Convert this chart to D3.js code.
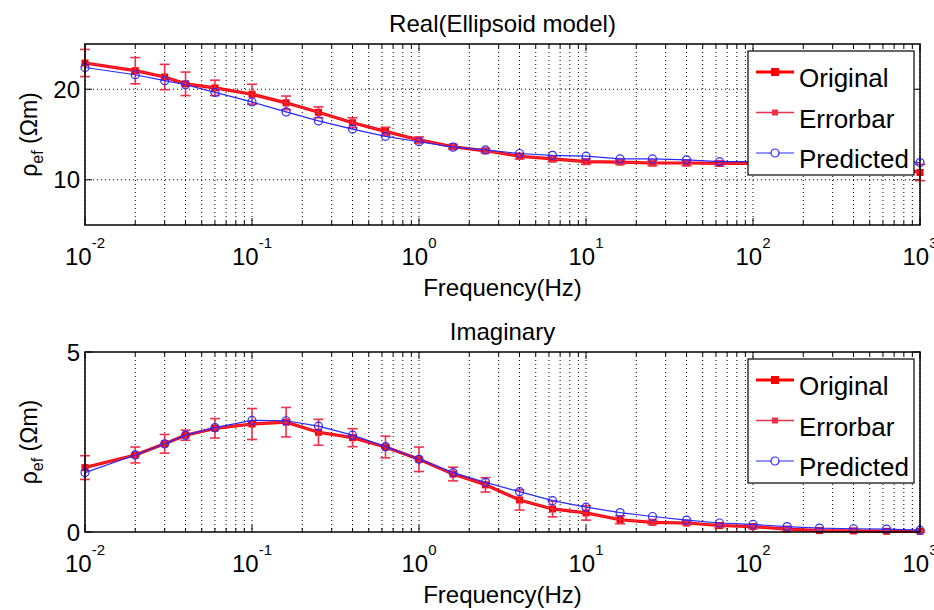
<!DOCTYPE html>
<html>
<head>
<meta charset="utf-8">
<script src="https://cdn.jsdelivr.net/npm/d3@7"></script>
<style>
  body { margin: 0; background: #fff; }
  svg { font-family: "Liberation Sans", Arial, sans-serif; }
</style>
</head>
<body>
<div id="chart"></div>
<script>
// frequencies (Hz)
var freqs = [0.01, 0.02, 0.03, 0.04, 0.06, 0.1, 0.16, 0.25, 0.4, 0.63, 1, 1.6, 2.5, 4, 6.3, 10, 16, 25, 40, 63, 100, 160, 250, 400, 630, 1000];

// real part
var realOriginal  = [22.9, 22.05, 21.35, 20.6, 20.15, 19.45, 18.5, 17.45, 16.3, 15.35, 14.4, 13.65, 13.2, 12.6, 12.3, 12.0, 11.95, 11.85, 11.85, 11.8, 11.8, 11.75, 11.7, 11.7, 11.6, 10.8];
var realPredicted = [22.4, 21.6, 20.95, 20.5, 19.65, 18.6, 17.5, 16.5, 15.6, 14.8, 14.2, 13.6, 13.3, 12.9, 12.7, 12.6, 12.3, 12.3, 12.2, 12.0, 12.0, 12.0, 12.0, 12.0, 12.0, 11.9];
var realError     = [1.5, 1.45, 1.4, 1.3, 0.85, 1.1, 0.75, 0.6, 0.55, 0.45, 0.33, 0.25, 0.2, 0.3, 0.3, 0.3, 0.25, 0.3, 0.3, 0.3, 0.3, 0.3, 0.3, 0.3, 0.3, 0.9];

// imaginary part
var imagOriginal  = [1.79, 2.14, 2.45, 2.69, 2.88, 3.0, 3.05, 2.77, 2.62, 2.36, 2.02, 1.61, 1.31, 0.89, 0.64, 0.53, 0.34, 0.27, 0.25, 0.18, 0.15, 0.08, 0.04, 0.03, 0.02, 0.02];
var imagPredicted = [1.65, 2.14, 2.45, 2.69, 2.9, 3.1, 3.09, 2.94, 2.69, 2.37, 2.02, 1.65, 1.38, 1.12, 0.87, 0.69, 0.54, 0.43, 0.33, 0.25, 0.21, 0.15, 0.11, 0.09, 0.08, 0.05];
var imagError     = [0.33, 0.22, 0.26, 0.14, 0.27, 0.43, 0.41, 0.36, 0.25, 0.3, 0.34, 0.19, 0.2, 0.28, 0.22, 0.2, 0.11, 0.06, 0.05, 0.05, 0.05, 0.04, 0.03, 0.03, 0.03, 0.03];

var xTickExp = [-2, -1, 0, 1, 2, 3];
var realYTicks = [10, 20];
var imagYTicks = [0, 5];
var legendLabels = ["Original", "Errorbar", "Predicted"];

var width = 934, height = 610;
var left = 85, right = 920;

var svg = d3.select("#chart").append("svg")
            .attr("width", width)
            .attr("height", height);

var x = d3.scaleLog().domain([0.01, 1000]).range([left, right]);

var red = "#ff0000", pink = "#f0304a", blue = "#2a2aff";

function panel(top, bottom, yDomain, yTicks, grid, title, orig, pred, err) {

     var y = d3.scaleLinear().domain(yDomain).range([bottom, top]);
     var g = svg.append("g");

     // white plot area
     g.append("rect")
      .attr("x", left).attr("y", top)
      .attr("width", right - left).attr("height", bottom - top)
      .attr("fill", "#fff");

     // dotted grid
     g.append("g").selectAll("line")
      .data(x.ticks())
      .enter().append("line")
      .attr("x1", function(d) { return x(d); })
      .attr("x2", function(d) { return x(d); })
      .attr("y1", top).attr("y2", bottom)
      .attr("stroke", "#000")
      .attr("stroke-width", 1)
      .attr("stroke-dasharray", "1,3");

     if (grid) {
          g.append("g").selectAll("line")
           .data(yTicks)
           .enter().append("line")
           .attr("x1", left).attr("x2", right)
           .attr("y1", function(d) { return y(d); })
           .attr("y2", function(d) { return y(d); })
           .attr("stroke", "#000")
           .attr("stroke-dasharray", "1,3");
     }

     // inward ticks, bottom / top / left / right
     var isMajor = function(d) { return Math.abs(Math.log10(d) - Math.round(Math.log10(d))) < 1e-9; };
     [[bottom, -1], [top, 1]].forEach(function(p) {
          g.append("g").selectAll("line")
           .data(x.ticks())
           .enter().append("line")
           .attr("x1", function(d) { return x(d); })
           .attr("x2", function(d) { return x(d); })
           .attr("y1", p[0])
           .attr("y2", function(d) { return p[0] + p[1] * (isMajor(d) ? 7 : 4); })
           .attr("stroke", "#000");
     });
     [[left, 1], [right, -1]].forEach(function(p) {
          g.append("g").selectAll("line")
           .data(yTicks)
           .enter().append("line")
           .attr("x1", p[0])
           .attr("x2", p[0] + p[1] * 7)
           .attr("y1", function(d) { return y(d); })
           .attr("y2", function(d) { return y(d); })
           .attr("stroke", "#000");
     });

     // x tick labels 10^n
     var xl = g.append("g").selectAll("text")
               .data(xTickExp)
               .enter().append("text")
               .attr("x", function(d) { return x(Math.pow(10, d)); })
               .attr("y", bottom + 40)
               .attr("text-anchor", "middle")
               .style("font-size", "24px");
     xl.append("tspan").text("10");
     xl.append("tspan")
       .attr("dy", -17)
       .style("font-size", "15px")
       .text(function(d) { return d; });

     // y tick labels
     g.append("g").selectAll("text")
      .data(yTicks)
      .enter().append("text")
      .attr("x", left - 5)
      .attr("y", function(d) { return y(d); })
      .attr("dy", "0.36em")
      .attr("text-anchor", "end")
      .style("font-size", "24px")
      .text(function(d) { return d; });

     // axis labels and title
     g.append("text")
      .attr("x", (left + right) / 2)
      .attr("y", bottom + 71)
      .attr("text-anchor", "middle")
      .style("font-size", "24px")
      .text("Frequency(Hz)");

     var yl = g.append("text")
               .attr("transform", "translate(37," + ((top + bottom) / 2) + ") rotate(-90)")
               .attr("text-anchor", "middle")
               .style("font-size", "23px");
     yl.append("tspan").text("ρ");
     yl.append("tspan").attr("dy", 6).style("font-size", "16px").text("ef");
     yl.append("tspan").attr("dy", -6).text(" (Ωm)");

     g.append("text")
      .attr("x", (left + right) / 2)
      .attr("y", top - 12)
      .attr("text-anchor", "middle")
      .style("font-size", "24px")
      .text(title);

     var pts = freqs.map(function(f, i) { return {f: f, o: orig[i], p: pred[i], e: err[i]}; });

     // original (thick red)
     g.append("path")
      .datum(pts)
      .attr("fill", "none")
      .attr("stroke", red)
      .attr("stroke-width", 3.2)
      .attr("d", d3.line().x(function(d) { return x(d.f); }).y(function(d) { return y(d.o); }));
     g.append("g").selectAll("rect")
      .data(pts)
      .enter().append("rect")
      .attr("x", function(d) { return x(d.f) - 3.5; })
      .attr("y", function(d) { return y(d.o) - 3.5; })
      .attr("width", 7).attr("height", 7)
      .attr("fill", red);

     // error bars
     var eb = g.append("g").attr("stroke", pink).attr("stroke-width", 1.6);
     eb.append("path")
       .datum(pts)
       .attr("fill", "none")
       .attr("stroke-width", 1)
       .attr("d", d3.line().x(function(d) { return x(d.f); }).y(function(d) { return y(d.o); }));
     var bar = eb.selectAll("g.bar")
                 .data(pts)
                 .enter().append("g").attr("class", "bar");
     bar.append("line")
        .attr("x1", function(d) { return x(d.f); })
        .attr("x2", function(d) { return x(d.f); })
        .attr("y1", function(d) { return y(d.o - d.e); })
        .attr("y2", function(d) { return y(d.o + d.e); });
     [-1, 1].forEach(function(s) {
          bar.append("line")
             .attr("x1", function(d) { return x(d.f) - 5; })
             .attr("x2", function(d) { return x(d.f) + 5; })
             .attr("y1", function(d) { return y(d.o + s * d.e); })
             .attr("y2", function(d) { return y(d.o + s * d.e); });
     });

     // predicted (blue, open circles)
     g.append("path")
      .datum(pts)
      .attr("fill", "none")
      .attr("stroke", blue)
      .attr("stroke-width", 1.2)
      .attr("d", d3.line().x(function(d) { return x(d.f); }).y(function(d) { return y(d.p); }));
     g.append("g").selectAll("circle")
      .data(pts)
      .enter().append("circle")
      .attr("cx", function(d) { return x(d.f); })
      .attr("cy", function(d) { return y(d.p); })
      .attr("r", 4)
      .attr("fill", "none")
      .attr("stroke", blue)
      .attr("stroke-width", 1.2);

     // box
     g.append("rect")
      .attr("x", left).attr("y", top)
      .attr("width", right - left).attr("height", bottom - top)
      .attr("fill", "none")
      .attr("stroke", "#000")
      .attr("stroke-width", 1.5);

     // legend
     var ly = top + 7;
     var lg = g.append("g").attr("transform", "translate(748," + ly + ")");
     lg.append("rect")
       .attr("width", 166).attr("height", 124)
       .attr("fill", "#fff")
       .attr("stroke", "#000")
       .attr("stroke-width", 1.2);
     var item = lg.selectAll("g.item")
                  .data(legendLabels)
                  .enter().append("g")
                  .attr("class", "item")
                  .attr("transform", function(d, i) { return "translate(0," + (21 + i * 40.5) + ")"; });
     item.append("line")
         .attr("x1", 8).attr("x2", 46)
         .attr("stroke", function(d, i) { return [red, pink, blue][i]; })
         .attr("stroke-width", function(d, i) { return [3, 1.3, 1.2][i]; });
     item.append("rect")
         .filter(function(d, i) { return i < 2; })
         .attr("x", function(d, i) { return i == 0 ? 23 : 24; })
         .attr("y", function(d, i) { return i == 0 ? -4 : -3; })
         .attr("width", function(d, i) { return i == 0 ? 8 : 6; })
         .attr("height", function(d, i) { return i == 0 ? 8 : 6; })
         .attr("fill", function(d, i) { return i == 0 ? red : pink; });
     item.filter(function(d, i) { return i == 2; })
         .append("circle")
         .attr("cx", 27).attr("r", 4)
         .attr("fill", "#fff")
         .attr("stroke", blue)
         .attr("stroke-width", 1.2);
     item.append("text")
         .attr("x", 51)
         .attr("y", 15)
         .style("font-size", "26px")
         .text(function(d) { return d; });
}

panel(44, 225, [5, 25], realYTicks, true, "Real(Ellipsoid model)", realOriginal, realPredicted, realError);
panel(352, 532, [0, 5], imagYTicks, false, "Imaginary", imagOriginal, imagPredicted, imagError);
</script>
</body>
</html>
